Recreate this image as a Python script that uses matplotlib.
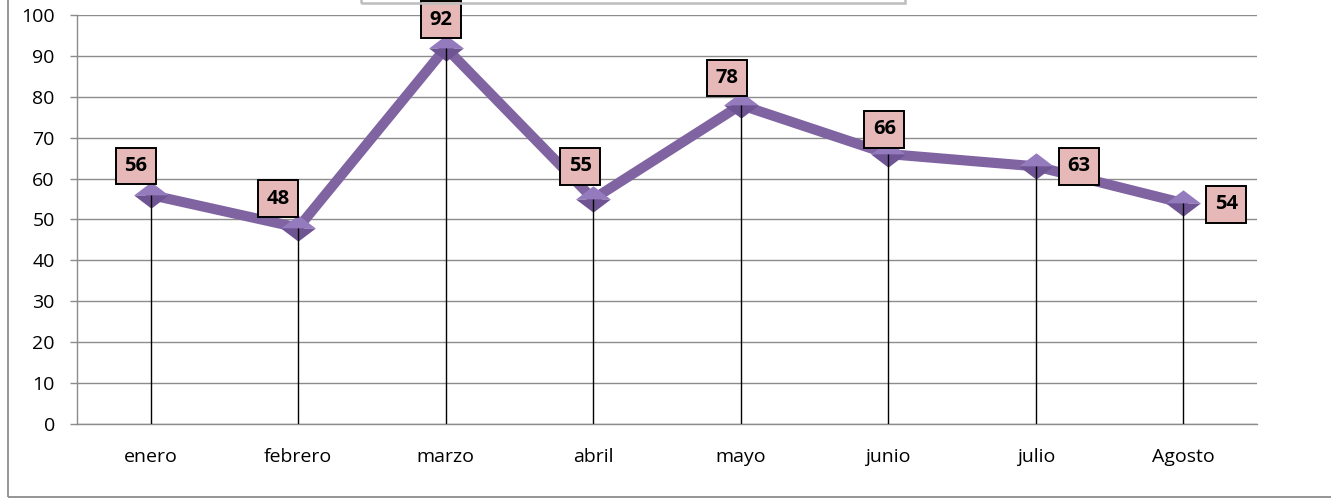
import matplotlib
matplotlib.use('Agg')
import matplotlib.pyplot as plt
from matplotlib.patches import Rectangle

meses   = ['enero', 'febrero', 'marzo', 'abril', 'mayo', 'junio', 'julio', 'Agosto']
valores = [56, 48, 92, 55, 78, 66, 63, 54]
yticks  = list(range(0, 101, 10))

# label offsets in pixels (style only)
offs = [(-15, 29), (-20, 29), (-5, 28), (-13, 33), (-14, 27), (-4, 25), (43, 0), (43, -1)]

plt.rcParams['font.family'] = ['Open Sans', 'DejaVu Sans']

W, H = 1331, 499
fig = plt.figure(figsize=(W / 100, H / 100), dpi=100)
ax = fig.add_axes([77 / W, 1 - 424 / H, (1257 - 77) / W, (424 - 15) / H])

# outer chart border + legend box remnant
fig.patches.append(Rectangle((8 / W, 2 / H), 1.2, 1.2, transform=fig.transFigure,
                             fill=False, ec='#8c8c8c', lw=1.3, zorder=0))
fig.patches.append(Rectangle((361 / W, 1 - 3 / H), (905 - 361) / W, 0.2, transform=fig.transFigure,
                             fill=False, ec='#bdbdbd', lw=1.8, zorder=0))

x = list(range(len(meses)))
ax.set_xlim(-0.5, len(meses) - 0.5)
ax.set_ylim(0, 100)
ax.set_yticks(yticks)
ax.set_xticks(x)
ax.set_xticklabels(meses)
ax.tick_params(axis='x', length=0, pad=17, labelsize=14)
ax.tick_params(axis='y', length=5, color='#8c8c8c', width=1, pad=11, labelsize=14)
ax.grid(axis='y', color='#8c8c8c', lw=1)
ax.set_axisbelow(True)
for s in ['top', 'right']:
    ax.spines[s].set_visible(False)
for s in ['left', 'bottom']:
    ax.spines[s].set_color('#8c8c8c')
    ax.spines[s].set_linewidth(1)

# diamond markers, flattened, with light top / dark bottom
top_half = [(-1, 0), (0, 0.76), (1, 0), (-1, 0)]
bot_half = [(-1, 0), (0, -0.76), (1, 0), (-1, 0)]

ax.plot(x, valores, color='#8064A2', lw=7.3, solid_capstyle='round', zorder=3)
ax.plot(x, valores, ls='none', marker=top_half, ms=25, mfc='#947bbd', mec='none', zorder=4)
ax.plot(x, valores, ls='none', marker=bot_half, ms=25, mfc='#6f5494', mec='none', zorder=4)
ax.vlines(x, 0, valores, color='black', lw=1, zorder=5)

for xi, v, (dx, dy) in zip(x, valores, offs):
    ax.annotate(str(v), (xi, v), xytext=(dx * 0.72, dy * 0.72), textcoords='offset points',
                ha='center', va='center', fontsize=14.5, fontweight='bold', zorder=6,
                bbox=dict(boxstyle='square,pad=0.42', fc='#E6B9B8', ec='black', lw=1.4))

fig.savefig('out.png', dpi=100)
